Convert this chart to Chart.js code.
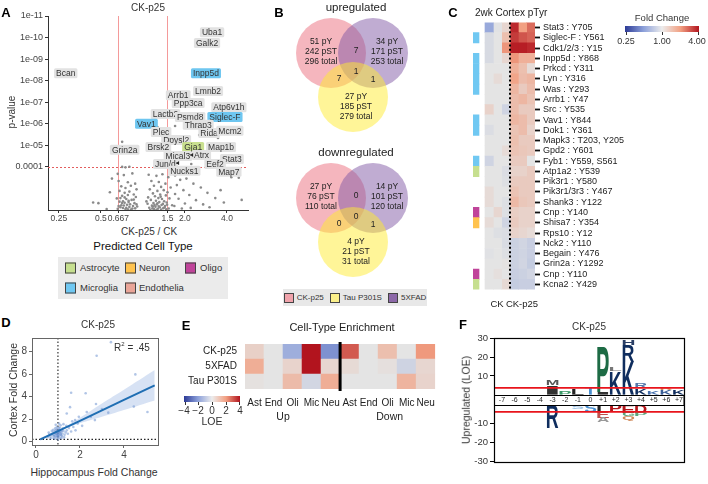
<!DOCTYPE html>
<html lang="en">
<head>
<meta charset="UTF-8">
<title>Phosphoproteomics figure</title>
<script src="https://cdn.jsdelivr.net/npm/chart.js"></script>
<style>
  body { margin:0; width:708px; height:484px; position:relative; overflow:hidden; background:#fff;
         font-family:'Liberation Sans', Arial, sans-serif; color:#333; }
  canvas, .t, .box, .sw, .bar, .tick { position:absolute; }
  .t { white-space:nowrap; transform:translate(-50%,-50%); line-height:1; }
  .tl { transform:translate(0,-50%); }
  .rot { transform:translate(-50%,-50%) rotate(-90deg); }
  .lab { font-weight:bold; font-size:13px; color:#000; }
  .sw { width:9px; height:9px; border:1px solid #444; transform:translate(0,-50%); }
  .tick { width:1px; background:#333; }
  .legB { display:flex; align-items:center; justify-content:center; gap:3px; font-size:8px; color:#333; }
  .legB i { display:inline-block; width:8px; height:8px; border:1px solid #444; margin-left:3px; }
</style>
</head>
<body>
<canvas id="cA" width="252" height="226" style="left:0;top:0"></canvas>
<canvas id="cB" width="140" height="268" style="left:286px;top:16px"></canvas>
<canvas id="cC" width="238" height="284" style="left:470px;top:14px"></canvas>
<canvas id="cD" width="165" height="132" style="left:0;top:330px"></canvas>
<canvas id="cE" width="268" height="96" style="left:175px;top:330px"></canvas>
<canvas id="cF" width="248" height="140" style="left:460px;top:330px"></canvas>

<!-- panel letters -->
<div class="t lab" style="left:6px;top:12px">A</div>
<div class="t lab" style="left:279px;top:12px">B</div>
<div class="t lab" style="left:453px;top:12px">C</div>
<div class="t lab" style="left:6px;top:322px">D</div>
<div class="t lab" style="left:186px;top:325px">E</div>
<div class="t lab" style="left:463px;top:324px">F</div>

<!-- A -->
<div class="t" style="left:148px;top:8px;font-size:10px">CK-p25</div>
<div class="t rot" style="left:12px;top:112px;font-size:10px">p-value</div>
<div class="t" style="left:149px;top:232px;font-size:10px">CK-p25 / CK</div>
<div class="t" style="left:143px;top:247px;font-size:11.5px;color:#111">Predicted Cell Type</div>
<div class="box" style="left:58px;top:257px;width:170px;height:42px;background:#ebebeb"></div>
<div class="sw" style="left:65px;top:268px;background:#c6df8f"></div>
<div class="t tl" style="left:80px;top:268px;font-size:9.5px">Astrocyte</div>
<div class="sw" style="left:125px;top:268px;background:#ffc34f"></div>
<div class="t tl" style="left:139px;top:268px;font-size:9.5px">Neuron</div>
<div class="sw" style="left:185px;top:268px;background:#c0449a"></div>
<div class="t tl" style="left:200px;top:268px;font-size:9.5px">Oligo</div>
<div class="sw" style="left:65px;top:288px;background:#70c8f2"></div>
<div class="t tl" style="left:80px;top:288px;font-size:9.5px">Microglia</div>
<div class="sw" style="left:125px;top:288px;background:#eaa598"></div>
<div class="t tl" style="left:139px;top:288px;font-size:9.5px">Endothelia</div>

<!-- B -->
<div class="t" style="left:356px;top:8px;font-size:11.5px;color:#222">upregulated</div>
<div class="t" style="left:356px;top:153px;font-size:11.5px;color:#222">downregulated</div>
<div class="box legB" style="left:283px;top:289px;width:144px;height:17px;background:#e8e8e8">
  <i style="background:#f0a3ab;margin-left:0"></i>CK-p25
  <i style="background:#fbf08a"></i>Tau P301S
  <i style="background:#8c68a8"></i>5XFAD
</div>

<!-- C -->
<div class="t tl" style="left:475px;top:13px;font-size:10px;color:#222">2wk Cortex pTyr</div>
<div class="t" style="left:662px;top:18px;font-size:9.5px">Fold Change</div>
<div class="bar" style="left:625px;top:26px;width:74px;height:6px;background:linear-gradient(to right, rgb(44,58,150) 0%, rgb(140,160,218) 25%, rgb(236,236,236) 50%, rgb(242,160,130) 75%, rgb(178,20,30) 100%)"></div>
<div class="tick" style="left:626px;top:32px;height:3px"></div>
<div class="tick" style="left:662px;top:32px;height:3px"></div>
<div class="tick" style="left:698px;top:32px;height:3px"></div>
<div class="t" style="left:626px;top:41px;font-size:9px">0.25</div>
<div class="t" style="left:662px;top:41px;font-size:9px">1.00</div>
<div class="t" style="left:697px;top:41px;font-size:9px">4.00</div>
<div class="t" style="left:497px;top:304px;font-size:9.5px;color:#222">CK</div>
<div class="t" style="left:522px;top:304px;font-size:9.5px;color:#222">CK-p25</div>

<!-- D -->
<div class="t" style="left:98px;top:325px;font-size:10px">CK-p25</div>
<div class="t" style="left:132px;top:347px;font-size:10px">R<sup style="font-size:6px">2</sup> = .45</div>
<div class="t rot" style="left:13px;top:390px;font-size:10.5px">Cortex Fold Change</div>
<div class="t" style="left:94px;top:472px;font-size:10.5px">Hippocampus Fold Change</div>

<!-- E -->
<div class="t" style="left:342px;top:327px;font-size:11px;color:#222">Cell-Type Enrichment</div>
<div class="bar" style="left:184px;top:396px;width:56px;height:6px;background:linear-gradient(to right, rgb(44,58,150) 0%, rgb(140,160,218) 25%, rgb(236,236,236) 50%, rgb(242,160,130) 75%, rgb(178,20,30) 100%)"></div>
<div class="tick" style="left:185px;top:402px;height:3px"></div>
<div class="tick" style="left:198px;top:402px;height:3px"></div>
<div class="tick" style="left:212px;top:402px;height:3px"></div>
<div class="tick" style="left:226px;top:402px;height:3px"></div>
<div class="tick" style="left:239px;top:402px;height:3px"></div>
<div class="t" style="left:184px;top:411px;font-size:10px">&minus;4</div>
<div class="t" style="left:198px;top:411px;font-size:10px">&minus;2</div>
<div class="t" style="left:212px;top:411px;font-size:10px">0</div>
<div class="t" style="left:226px;top:411px;font-size:10px">2</div>
<div class="t" style="left:240px;top:411px;font-size:10px">4</div>
<div class="t" style="left:212px;top:421px;font-size:10.5px">LOE</div>

<!-- F -->
<div class="t" style="left:589px;top:327px;font-size:10px">CK-p25</div>
<div class="t rot" style="left:466px;top:400px;font-size:10.5px">Upregulated (LOE)</div>

<script>
Chart.defaults.font.family = "'Liberation Sans', Arial, sans-serif";
Chart.defaults.color = '#333';
Chart.defaults.animation = false;
Chart.defaults.responsive = false;
Chart.defaults.devicePixelRatio = 1;
Chart.defaults.plugins.legend.display = false;
Chart.defaults.plugins.tooltip.enabled = false;

// ---------- data: A (volcano) ----------
// [fold change, p-value]
const volcanoPts = [
  // above threshold
  [1.70,1.26e-6],[2.01,1.4e-6],[2.53,3.3e-6],[3.45,4.6e-6],[1.27,1.4e-6],[0.71,6.9e-6],[1.55,1.6e-5],
  [1.73,6.5e-5],[2.22,7.3e-5],[2.18,2.8e-5],[1.37,1.9e-6],[4.86,3.2e-4],[5.1,3.4e-3],
  // low fold change
  [0.44,4.5e-3],[0.48,4.8e-3],[0.55,9.0e-3],[0.58,1.5e-3],[0.60,3.5e-4],[0.71,1.0e-4],[0.75,1.05e-4],[0.80,9.8e-5],
  // left cluster
  [0.66,2.1e-4],[0.73,2.4e-4],[0.84,2.0e-4],[0.67,4.5e-4],[0.78,5.2e-4],[0.88,6.0e-4],[0.70,8.0e-4],[0.75,9.5e-4],
  [0.82,7.5e-4],[0.90,1.1e-3],[0.68,1.3e-3],[0.74,1.6e-3],[0.80,1.4e-3],[0.86,1.9e-3],[0.71,2.2e-3],[0.78,2.0e-3],
  [0.89,2.5e-3],[0.69,2.8e-3],[0.76,3.1e-3],[0.83,3.4e-3],[0.72,3.9e-3],[0.79,4.3e-3],[0.87,4.8e-3],[0.68,4.1e-3],
  [0.74,4.6e-3],[0.81,5.4e-3],[0.70,6.0e-3],[0.77,5.7e-3],[0.85,6.5e-3],[0.73,6.2e-3],[0.91,6.9e-3],[0.69,7.4e-3],
  [0.76,8.0e-3],[0.80,7.2e-3],[0.84,8.6e-3],[0.72,8.1e-3],[0.66,8.8e-3],[0.78,9.3e-3],[0.82,9.6e-3],[0.75,9.0e-3],
  [0.88,8.4e-3],[0.71,4.7e-3],[0.79,3.7e-3],[0.74,2.6e-3],[0.65,2.9e-3],[0.90,5.5e-3],[0.86,3.3e-3],[0.67,6.6e-3],
  // right cluster
  [1.10,2.3e-4],[1.25,2.6e-4],[1.38,2.2e-4],[1.52,3.0e-4],[1.15,4.5e-4],[1.30,5.0e-4],[1.45,6.0e-4],[1.20,7.5e-4],
  [1.35,8.5e-4],[1.58,9.0e-4],[1.12,1.1e-3],[1.27,1.3e-3],[1.41,1.2e-3],[1.50,1.5e-3],[1.18,1.7e-3],[1.33,1.9e-3],
  [1.22,2.3e-3],[1.46,2.1e-3],[1.09,2.6e-3],[1.29,2.8e-3],[1.37,3.1e-3],[1.55,2.9e-3],[1.14,3.4e-3],[1.24,3.7e-3],
  [1.42,3.9e-3],[1.31,4.3e-3],[1.19,4.7e-3],[1.48,4.5e-3],[1.08,5.1e-3],[1.26,5.5e-3],[1.36,5.9e-3],[1.16,6.3e-3],
  [1.44,6.6e-3],[1.23,7.0e-3],[1.32,7.5e-3],[1.11,7.9e-3],[1.40,8.2e-3],[1.28,8.7e-3],[1.20,9.1e-3],[1.53,8.5e-3],
  [1.35,9.5e-3],[1.13,9.7e-3],[1.47,9.3e-3],[1.62,6.0e-3],[1.06,4.0e-3],[1.21,5.8e-3],[1.39,5.2e-3],[1.17,8.4e-3],
  [1.30,6.8e-3],[1.25,9.8e-3],[1.43,7.7e-3],[1.34,2.4e-3],[1.27,4.9e-3],[1.49,5.7e-3],[1.18,6.9e-3],
  // sparse right
  [1.70,2.5e-4],[1.85,4.0e-4],[2.05,3.5e-4],[1.75,7.0e-4],[2.30,6.0e-4],[1.95,1.2e-3],[2.60,9.0e-4],[1.70,1.8e-3],
  [2.15,2.0e-3],[2.90,1.6e-3],[1.80,3.0e-3],[2.40,3.5e-3],[3.30,2.8e-3],[2.00,5.0e-3],[1.68,6.5e-3],[2.70,5.5e-3],
  [3.80,4.5e-3],[2.20,8.0e-3],[4.30,3.0e-4],[3.00,7.5e-3],[1.90,8.5e-3],[3.60,1.2e-3]
];
const volcanoLabels = [
  ['Uba1', 3.13, 5.6e-11, ''], ['Galk2', 2.88, 1.8e-10, ''], ['Bcan', 0.28, 4.5e-9, ''],
  ['Inpp5d', 2.83, 4.5e-9, 'mic'], ['Lmnb2', 2.93, 3.0e-8, ''], ['Arrb1', 1.79, 4.7e-8, ''],
  ['Ppp3ca', 2.11, 1.1e-7, ''], ['Atp6v1h', 4.13, 1.7e-7, ''], ['Lactb2', 1.45, 3.5e-7, ''],
  ['Psmd8', 2.18, 4.9e-7, ''], ['Siglec-F', 3.87, 4.9e-7, 'mic'], ['Vav1', 1.06, 1.0e-6, 'mic'],
  ['Thrap3', 2.49, 1.1e-6, ''], ['Plec', 1.35, 2.4e-6, ''], ['Rida', 2.98, 2.7e-6, ''],
  ['Mcm2', 4.2, 2.1e-6, ''], ['Dpysl2', 1.73, 5.6e-6, ''], ['Grin2a', 0.74, 1.6e-5, ''],
  ['Brsk2', 1.29, 1.2e-5, ''], ['Gja1', 2.29, 1.2e-5, 'ast'], ['Map1b', 3.63, 1.2e-5, ''],
  ['Mical3', 1.78, 3.1e-5, ''], ['Atrx', 2.63, 2.8e-5, ''], ['Stat3', 4.34, 4.3e-5, ''],
  ['Jun/d', 1.45, 7.3e-5, ''], ['Eef2', 3.29, 7.3e-5, ''], ['Nucks1', 1.98, 1.5e-4, ''],
  ['Map7', 4.13, 1.7e-4, '']
];
const volcanoArrows = [['Jun/d', 1.73, 6.6e-5], ['Atrx', 2.18, 2.8e-5]];
const fcCutoffs = [0.667, 1.5];
const pCutoff = 1e-4;
const xTicksA = [0.25, 0.5, 0.667, 1.5, 2, 4];
const xTickLabelsA = ['0.25', '0.5', '0.667', '1.5', '2.0', '4.0'];
const yTicksA = [1e-11, 1e-10, 1e-9, 1e-8, 1e-7, 1e-6, 1e-5, 1e-4];
const yTickLabelsA = ['1e-11', '1e-10', '1e-09', '1e-08', '1e-07', '1e-06', '1e-05', '0.0001'];

// ---------- data: B (Venn) ----------
// order: CK-p25, 5XFAD, Tau P301S
const upPY = [51, 34, 27];
const upPST = [242, 171, 185];
const upTotal = [296, 253, 279];
const upOverlap = [7, 7, 1, 1];      // CK&5X, CK&Tau, all three, Tau&5X
const downPY = [27, 14, 4];
const downPST = [76, 101, 21];
const downTotal = [110, 120, 31];
const downOverlap = [0, 0, 0, 1];

// ---------- data: C (heatmap) ----------
const siteLabels = ['Stat3 : Y705', 'Siglec-F : Y561', 'Cdk1/2/3 : Y15', 'Inpp5d : Y868', 'Prkcd : Y311',
  'Lyn : Y316', 'Was : Y293', 'Arrb1 : Y47', 'Src : Y535', 'Vav1 : Y844', 'Dok1 : Y361', 'Mapk3 : T203, Y205',
  'Gpd2 : Y601', 'Fyb1 : Y559, S561', 'Atp1a2 : Y539', 'Pik3r1 : Y580', 'Pik3r1/3r3 : Y467', 'Shank3 : Y122',
  'Cnp : Y140', 'Shisa7 : Y354', 'Rps10 : Y12', 'Nck2 : Y110', 'Begain : Y476', 'Grin2a : Y1292',
  'Cnp : Y110', 'Kcna2 : Y429'];
const siteType = ['', 'mic', '', 'mic', 'mic', 'mic', 'mic', '', '', 'mic', 'mic', '', '', 'mic', 'ast',
  '', '', '', 'oli', 'neu', '', '', '', '', 'oli', 'ast'];
const ckFC = [[0.55,0.98,1.15],[0.9,1.0,1.45],[0.9,1.0,2.1],[0.9,1.0,1.15],[1.0,1.0,1.0],[1.0,1.1,1.0],
  [1.0,1.0,1.0],[1.0,1.0,1.0],[1.2,1.0,0.85],[1.0,1.0,1.0],[0.93,1.0,1.0],[1.0,1.0,1.0],[1.0,1.0,1.1],
  [0.85,1.0,1.0],[1.0,1.0,0.93],[1.0,1.0,0.95],[1.1,1.0,1.0],[1.1,1.0,0.95],[1.0,1.15,0.95],[1.1,1.0,0.85],
  [1.0,0.95,0.93],[1.0,1.0,0.92],[0.97,1.0,0.95],[1.0,1.0,1.02],[1.0,1.05,1.0],[1.0,1.0,1.12]];
const p25FC = [[3.6,2.0,2.6],[3.3,2.9,2.7],[3.8,3.8,3.6],[2.1,1.7,1.7],[1.7,1.45,1.1],[1.9,1.5,1.6],
  [1.6,1.3,1.5],[1.5,1.6,1.4],[1.5,1.3,1.3],[1.6,1.5,1.3],[1.4,1.5,1.2],[1.45,1.3,1.3],[1.4,1.35,1.3],
  [1.3,1.3,1.0],[1.2,1.2,1.3],[1.3,1.3,1.3],[1.4,1.3,1.3],[1.55,1.35,1.3],[1.25,1.2,1.2],[1.3,1.2,1.2],
  [1.2,1.15,1.1],[0.82,0.86,0.8],[0.82,0.85,0.8],[0.82,0.86,0.78],[0.8,0.82,0.86],[0.78,0.8,0.8]];

// ---------- data: D (cortex vs hippocampus) ----------
const hcPts = [
  [0.75,0.55],[0.82,0.62],[0.88,0.48],[0.92,0.71],[0.95,0.58],[0.98,0.83],[1.02,0.66],[1.05,0.52],[1.08,0.77],
  [1.12,0.61],[0.85,0.9],[0.9,1.02],[0.97,1.1],[1.03,0.95],[1.1,1.05],[1.15,0.88],[1.2,0.72],[1.25,0.95],
  [0.78,0.8],[0.7,0.68],[0.65,0.45],[0.8,0.35],[0.93,0.38],[1.0,0.42],[1.07,0.33],[1.18,0.46],[1.3,0.6],
  [1.35,0.82],[1.4,1.0],[1.22,1.18],[1.08,1.25],[0.95,1.3],[0.88,1.18],[0.72,0.95],[0.6,0.62],[0.68,0.3],
  [0.85,0.25],[1.0,0.2],[1.15,0.3],[1.28,0.38],[1.45,0.7],[1.5,1.2],[1.6,0.9],[1.38,1.4],[1.12,1.45],
  [0.9,1.5],[1.05,1.6],[1.25,1.55],[0.55,0.4],[0.58,0.8],[1.0,0.75],[0.96,0.92],[1.04,0.85],[1.01,0.6],
  [0.99,0.5],[1.06,1.0],[0.94,0.65],[1.13,0.7],[0.87,0.72],[1.18,0.98],[1.7,1.3],[1.8,1.0],[1.9,1.6],
  [2.1,1.4],[1.65,1.8],[1.95,2.2],[0.83,0.5],[0.91,0.85],[1.09,0.9],[1.16,0.55],[0.79,1.05],[1.03,1.2],
  [2.76,7.63],[3.41,8.83],[4.52,5.97],[5.07,2.63],[4.45,3.11],[2.26,4.29],[2.73,3.34],[2.68,1.91],
  [3.29,2.57],[2.31,2.63],[1.6,4.34],[1.55,3.06],[1.78,1.91],[3.0,2.9],[2.5,2.2],[1.4,2.5]
];
const fitX = [0.2, 1, 2, 3, 4, 5.4];
const fitY = [0.2, 0.93, 1.85, 2.78, 3.7, 5.0];
const bandHi = [0.32, 0.98, 2.12, 3.38, 4.6, 6.35];
const bandLo = [0.08, 0.88, 1.62, 2.2, 2.8, 3.65];
const hipRef = 1;
const ctxRef = 0.2;

// ---------- data: E (cell-type enrichment, LOE) ----------
const eCols = ['Ast', 'End', 'Oli', 'Mic', 'Neu', 'Ast', 'End', 'Oli', 'Mic', 'Neu'];
const eRows = ['CK-p25', '5XFAD', 'Tau P301S'];
const eGroups = ['Up', 'Down'];
const eCK = [0.6, 0, -1.6, 4.5, -2.3, 3.0, 0, 1.1, 0, 2.1];
const eFAD = [1.6, 0, 0.5, 4.5, 0.4, 0.3, 0, 0.15, -0.5, 0.4];
const eTau = [0.1, 0, 1.2, -0.4, 1.6, 0, 0, 0, 1.4, 0.5];

// ---------- data: F (sequence logo) ----------
const logoPos = [-7, -6, -5, -4, -3, -2, -1, 0, 1, 2, 3, 4, 5, 6, 7];
const logoTicks = [-30, -20, -10, 10, 20, 30];
const sigLOE = 3.6;
// [position, [[letter, colour, height], ...]] listed from the centre band outwards
const upLogo = [
  [-3, [['I', '#333', 5], ['M', '#555', 2.7]]],
  [-2, [['P', '#3c9a68', 2.2]]],
  [-1, [['L', '#222', 3.2]]],
  [0, [['T', '#4a90d0', 4]]],
  [1, [['I', '#333', 1], ['P', '#1d6b45', 24]]],
  [2, [['K', '#0f2d5e', 12.4], ['L', '#777', 1.8]]],
  [3, [['K', '#0f2d5e', 17.7], ['R', '#0f2d5e', 9], ['H', '#2a3f66', 3]]],
  [4, [['K', '#0f2d5e', 3.5], ['R', '#5577aa', 2.7]]],
  [5, [['K', '#4a74b0', 1.8]]],
  [6, [['K', '#3b5f98', 2.7], ['R', '#d09060', 1]]],
  [7, [['K', '#0f2d5e', 3]]]
];
const downLogo = [
  [-3, [['R', '#0f2d5e', 12]]],
  [-1, [['S', '#9cc3e6', 2.2]]],
  [0, [['S', '#4a90d0', 3.9]]],
  [1, [['L', '#222', 3.5], ['E', '#c0504d', 3.2], ['A', '#999', 2.5]]],
  [2, [['P', '#b3161b', 4]]],
  [3, [['E', '#b3161b', 4], ['G', '#5aa57a', 2], ['Q', '#d08a5a', 2.2]]],
  [4, [['D', '#b3161b', 4], ['P', '#5aa57a', 1.8]]]
];

// ---------- helpers ----------
const FONT = "'Liberation Sans', Arial, sans-serif";
const divStops = [[-1, [44, 58, 150]], [-0.5, [140, 160, 218]], [0, [228, 228, 228]], [0.5, [242, 160, 130]], [1, [178, 20, 30]]];
function divColor(t) {
  t = Math.max(-1, Math.min(1, t));
  for (let i = 1; i < divStops.length; i++) {
    if (t <= divStops[i][0]) {
      const [t0, c0] = divStops[i - 1], [t1, c1] = divStops[i];
      const f = (t - t0) / (t1 - t0);
      return 'rgb(' + c0.map((c, k) => Math.round(c + (c1[k] - c) * f)).join(',') + ')';
    }
  }
}
const fcColor = v => divColor(Math.log2(v) / 2);
const loeColor = v => divColor(v / 4);
const typeColors = { ast: '#c6df8f', neu: '#ffc34f', oli: '#c0449a', mic: '#70c8f2', end: '#eaa598' };
const labelFill = { '': '#e2e2e2', mic: '#6ec6f0', ast: '#c9e08f' };
const axisGrid = (len, col) => ({ display: true, drawOnChartArea: false, tickLength: len, color: col });
const noGrid = { display: false, drawTicks: false };

// ---------- A ----------
const volcanoPlugin = {
  id: 'volcano',
  beforeDatasetsDraw(chart) {
    const { ctx, chartArea: a, scales: { x, y } } = chart;
    ctx.save();
    ctx.lineWidth = 1;
    ctx.strokeStyle = 'rgba(240,120,120,0.75)';
    fcCutoffs.forEach(v => {
      const px = Math.round(x.getPixelForValue(v)) + 0.5;
      ctx.beginPath(); ctx.moveTo(px, a.top); ctx.lineTo(px, a.bottom); ctx.stroke();
    });
    ctx.setLineDash([2, 2]);
    ctx.strokeStyle = '#e35d5d';
    const py = Math.round(y.getPixelForValue(pCutoff)) + 0.5;
    ctx.beginPath(); ctx.moveTo(a.left, py); ctx.lineTo(a.right, py); ctx.stroke();
    ctx.restore();
  },
  afterDatasetsDraw(chart) {
    const { ctx, scales: { x, y } } = chart;
    ctx.save();
    ctx.font = '8.5px ' + FONT;
    ctx.textAlign = 'center';
    ctx.textBaseline = 'middle';
    const boxes = {};
    volcanoLabels.forEach(([txt, fc, p, kind]) => {
      const cx = x.getPixelForValue(fc), cy = y.getPixelForValue(p);
      const w = ctx.measureText(txt).width + 4, h = 10;
      ctx.fillStyle = labelFill[kind];
      ctx.beginPath(); ctx.roundRect(cx - w / 2, cy - h / 2, w, h, 1.5); ctx.fill();
      ctx.fillStyle = '#333';
      ctx.fillText(txt, cx, cy + 0.5);
      boxes[txt] = { cx, cy, w };
    });
    ctx.strokeStyle = '#222'; ctx.fillStyle = '#222'; ctx.lineWidth = 1;
    volcanoArrows.forEach(([txt, fc, p]) => {
      const b = boxes[txt];
      const tx = x.getPixelForValue(fc), ty = y.getPixelForValue(p);
      const sx = tx > b.cx ? b.cx + b.w / 2 + 1 : b.cx - b.w / 2 - 1;
      const dir = Math.sign(tx - sx);
      ctx.beginPath(); ctx.moveTo(sx, b.cy); ctx.lineTo(tx, ty); ctx.stroke();
      ctx.beginPath(); ctx.moveTo(tx, ty); ctx.lineTo(tx - dir * 3, ty - 2); ctx.lineTo(tx - dir * 3, ty + 2); ctx.closePath(); ctx.fill();
    });
    ctx.restore();
  }
};

new Chart(document.getElementById('cA'), {
  type: 'scatter',
  data: { datasets: [{ data: volcanoPts.map(([x, y]) => ({ x, y })), pointRadius: 1.3, backgroundColor: '#8a8a8a', borderWidth: 0 }] },
  options: {
    layout: { padding: { top: 16, right: 3, left: 0, bottom: 0 } },
    scales: {
      x: {
        type: 'logarithmic', min: 0.209, max: 5.66,
        afterBuildTicks: s => { s.ticks = xTicksA.map(v => ({ value: v })); },
        afterFit: s => { s.height = 16; },
        grid: axisGrid(3, '#333'), border: { color: '#333' },
        ticks: { font: { size: 8.5 }, color: '#444', padding: 1, autoSkip: false, maxRotation: 0, callback: (v, i) => xTickLabelsA[i] }
      },
      y: {
        type: 'logarithmic', reverse: true, min: 1e-11, max: 1e-2,
        afterBuildTicks: s => { s.ticks = yTicksA.map(v => ({ value: v })); },
        afterFit: s => { s.width = 48; },
        grid: axisGrid(3, '#333'), border: { color: '#333' },
        ticks: { font: { size: 9 }, color: '#444', padding: 2, autoSkip: false, callback: (v, i) => yTickLabelsA[i] }
      }
    }
  },
  plugins: [volcanoPlugin]
});

// ---------- B ----------
const vennCentres = [[0, 0], [42, 0], [22, 44]];     // CK-p25, 5XFAD, Tau P301S
const vennShift = [0, 145];                           // up, down
const vennColors = ['rgba(235,110,125,0.5)', 'rgba(130,90,165,0.5)', 'rgba(255,236,50,0.5)'];
const groupPos = [[-10, -1], [56, -1], [25, 54]];
const overlapPos = [[25, -2], [8, 26], [25, 19], [42, 27]];
const vennPlugin = {
  id: 'vennText',
  afterDatasetsDraw(chart) {
    const { ctx, scales: { x, y } } = chart;
    ctx.save();
    ctx.font = '8.5px ' + FONT;
    ctx.fillStyle = '#222';
    ctx.textAlign = 'center';
    ctx.textBaseline = 'middle';
    [[upPY, upPST, upTotal, upOverlap], [downPY, downPST, downTotal, downOverlap]].forEach(([py, pst, tot, ov], k) => {
      const dy = vennShift[k];
      groupPos.forEach(([gx, gy], i) => {
        const px = x.getPixelForValue(gx), c = y.getPixelForValue(gy + dy);
        ctx.fillText(py[i] + ' pY', px, c - 10);
        ctx.fillText(pst[i] + ' pST', px, c);
        ctx.fillText(tot[i] + ' total', px, c + 10);
      });
      overlapPos.forEach(([ox, oy], i) => ctx.fillText(String(ov[i]), x.getPixelForValue(ox), y.getPixelForValue(oy + dy)));
    });
    ctx.restore();
  }
};
new Chart(document.getElementById('cB'), {
  type: 'bubble',
  data: {
    datasets: vennCentres.map((c, i) => ({
      data: vennShift.map(dy => ({ x: c[0], y: c[1] + dy, r: 35 })),
      backgroundColor: vennColors[i], borderWidth: 0, order: 2 - i, clip: false
    }))
  },
  options: {
    layout: { padding: 0, autoPadding: false },
    scales: {
      x: { display: false, min: -45, max: 95 },
      y: { display: false, min: -37, max: 231, reverse: true }
    }
  },
  plugins: [vennPlugin]
});

// ---------- C ----------
const sideW = 0.72, gapW = 0.72;
const dottedPlugin = {
  id: 'dotted',
  afterDatasetsDraw(chart) {
    const { ctx, chartArea: a, scales: { x } } = chart;
    const px = x.getPixelForValue(sideW + gapW + 3);
    ctx.save();
    ctx.strokeStyle = '#000'; ctx.lineWidth = 2; ctx.setLineDash([2, 2.4]);
    ctx.beginPath(); ctx.moveTo(px, a.top); ctx.lineTo(px, a.bottom); ctx.stroke();
    ctx.restore();
  }
};
const cDatasets = [
  { data: siteLabels.map(() => sideW), backgroundColor: siteType.map(t => t ? typeColors[t] : 'rgba(0,0,0,0)') },
  { data: siteLabels.map(() => gapW), backgroundColor: 'rgba(0,0,0,0)' }
];
[ckFC, p25FC].forEach(m => {
  for (let c = 0; c < 3; c++) cDatasets.push({ data: m.map(() => 1), backgroundColor: m.map(r => fcColor(r[c])) });
});
new Chart(document.getElementById('cC'), {
  type: 'bar',
  data: { labels: siteLabels, datasets: cDatasets.map(d => Object.assign(d, { borderWidth: 0, barPercentage: 1, categoryPercentage: 1 })) },
  options: {
    indexAxis: 'y',
    layout: { padding: { left: 3, top: 3.6, bottom: 0.6, right: 0 } },
    scales: {
      x: { stacked: true, display: false, min: 0, max: sideW + gapW + 6 },
      y: {
        stacked: true, position: 'right',
        afterFit: s => { s.width = 173; },
        grid: { display: true, drawOnChartArea: false, offset: false, tickLength: 5, tickWidth: 1.8, color: '#111' },
        border: { display: false },
        ticks: { font: { size: 9 }, color: '#222', padding: 3, autoSkip: false }
      }
    }
  },
  plugins: [dottedPlugin]
});

// ---------- D ----------
const dPlugin = {
  id: 'dRefs',
  beforeDatasetsDraw(chart) {
    const { ctx, chartArea: a, scales: { x, y } } = chart;
    ctx.save();
    ctx.strokeStyle = '#222'; ctx.lineWidth = 1.1; ctx.setLineDash([1.5, 2]);
    const px = x.getPixelForValue(hipRef), py = y.getPixelForValue(ctxRef);
    ctx.beginPath(); ctx.moveTo(px, a.top); ctx.lineTo(px, a.bottom); ctx.stroke();
    ctx.beginPath(); ctx.moveTo(a.left, py); ctx.lineTo(a.right, py); ctx.stroke();
    ctx.restore();
  },
  afterDraw(chart) {
    const { ctx, chartArea: a } = chart;
    ctx.save();
    ctx.strokeStyle = '#666'; ctx.lineWidth = 1;
    ctx.strokeRect(Math.round(a.left) + 0.5, Math.round(a.top) + 0.5, Math.round(a.right - a.left), Math.round(a.bottom - a.top));
    ctx.restore();
  }
};
new Chart(document.getElementById('cD'), {
  type: 'scatter',
  data: {
    datasets: [
      { type: 'line', data: fitX.map((v, i) => ({ x: v, y: bandHi[i] })), borderWidth: 0, pointRadius: 0, fill: '+1', backgroundColor: 'rgba(150,178,225,0.38)', tension: 0.4, order: 3 },
      { type: 'line', data: fitX.map((v, i) => ({ x: v, y: bandLo[i] })), borderWidth: 0, pointRadius: 0, fill: false, tension: 0.4, order: 3 },
      { data: hcPts.map(([x, y]) => ({ x, y })), pointRadius: 1.3, backgroundColor: 'rgba(100,140,205,0.5)', borderWidth: 0, order: 2 },
      { type: 'line', data: fitX.map((v, i) => ({ x: v, y: fitY[i] })), borderColor: '#1f6eb3', borderWidth: 2, pointRadius: 0, fill: false, order: 1 }
    ]
  },
  options: {
    layout: { padding: { top: 5, right: 7, left: 0, bottom: 0 } },
    scales: {
      x: {
        min: -0.18, max: 5.55,
        afterBuildTicks: s => { s.ticks = [0, 2, 4].map(v => ({ value: v })); },
        afterFit: s => { s.height = 17; },
        grid: axisGrid(3, '#666'), border: { display: false },
        ticks: { font: { size: 10 }, color: '#444', padding: 1 }
      },
      y: {
        min: -0.3, max: 9.2,
        afterBuildTicks: s => { s.ticks = [0, 2, 4, 6, 8].map(v => ({ value: v })); },
        afterFit: s => { s.width = 32; },
        grid: axisGrid(3, '#666'), border: { display: false },
        ticks: { font: { size: 10 }, color: '#444', padding: 2 }
      }
    }
  },
  plugins: [dPlugin]
});

// ---------- E ----------
const eLinePlugin = {
  id: 'eLine',
  afterDatasetsDraw(chart) {
    const { ctx, chartArea: a, scales: { x } } = chart;
    const px = (x.getPixelForValue(4) + x.getPixelForValue(5)) / 2;
    ctx.save();
    ctx.strokeStyle = '#000'; ctx.lineWidth = 3;
    ctx.beginPath(); ctx.moveTo(px, a.top - 2); ctx.lineTo(px, a.bottom + 2); ctx.stroke();
    // group captions under the column labels
    ctx.fillStyle = '#222';
    ctx.font = '10.5px ' + FONT;
    ctx.textAlign = 'center'; ctx.textBaseline = 'middle';
    ctx.fillText(eGroups[0], (x.getPixelForValue(1) + x.getPixelForValue(2)) / 2, a.bottom + 28);
    ctx.fillText(eGroups[1], x.getPixelForValue(7) + 2, a.bottom + 28);
    ctx.restore();
  }
};
new Chart(document.getElementById('cE'), {
  type: 'bar',
  data: {
    labels: eCols,
    datasets: [eTau, eFAD, eCK].map(r => ({
      data: r.map(() => 1), backgroundColor: r.map(loeColor), borderWidth: 0, barPercentage: 1, categoryPercentage: 1
    }))
  },
  options: {
    layout: { padding: { top: 6, right: 3, left: 0, bottom: 0 } },
    scales: {
      x: {
        stacked: true, afterFit: s => { s.height = 37; },
        grid: noGrid, border: { display: false },
        ticks: { font: { size: 10 }, color: '#222', padding: 8, autoSkip: false, maxRotation: 0 }
      },
      y: {
        stacked: true, min: 0, max: 3,
        afterBuildTicks: s => { s.ticks = [0.5, 1.5, 2.5].map(v => ({ value: v })); },
        afterFit: s => { s.width = 70; },
        grid: noGrid, border: { display: false },
        ticks: { font: { size: 10 }, color: '#222', padding: 8, callback: (v, i) => eRows[2 - i] }
      }
    }
  },
  plugins: [eLinePlugin]
});

// ---------- F ----------
const logoGap = 2.8;
const xMinF = -7.63, xMaxF = 7.4;
function drawLetter(ctx, ch, color, xc, w, top, h) {
  ctx.save();
  ctx.font = 'bold 100px ' + FONT;
  ctx.textAlign = 'left';
  ctx.textBaseline = 'alphabetic';
  const m = ctx.measureText(ch);
  const gw = m.actualBoundingBoxLeft + m.actualBoundingBoxRight;
  const gh = m.actualBoundingBoxAscent + m.actualBoundingBoxDescent;
  ctx.translate(xc - w / 2, top);
  ctx.scale(w / gw, h / gh);
  ctx.fillStyle = color;
  ctx.fillText(ch, m.actualBoundingBoxLeft, m.actualBoundingBoxAscent);
  ctx.restore();
}
const logoPlugin = {
  id: 'logo',
  beforeDatasetsDraw(chart) {
    const { ctx, chartArea: a, scales: { x, y } } = chart;
    ctx.save();
    ctx.beginPath(); ctx.rect(a.left, a.top, a.right - a.left, a.bottom - a.top); ctx.clip();
    const colW = (x.getPixelForValue(1) - x.getPixelForValue(0)) * 0.92;
    [[upLogo, 1], [downLogo, -1]].forEach(([stacks, dir]) => {
      stacks.forEach(([pos, letters]) => {
        let base = dir * logoGap;
        letters.forEach(([ch, col, h]) => {
          const y0 = y.getPixelForValue(base), y1 = y.getPixelForValue(base + dir * h);
          drawLetter(ctx, ch, col, x.getPixelForValue(pos), colW, Math.min(y0, y1), Math.abs(y1 - y0));
          base += dir * h;
        });
      });
    });
    const bt = y.getPixelForValue(logoGap), bb = y.getPixelForValue(-logoGap);
    ctx.fillStyle = '#fff';
    ctx.fillRect(a.left, bt, a.right - a.left, bb - bt);
    ctx.strokeStyle = '#000'; ctx.lineWidth = 1;
    ctx.strokeRect(a.left, Math.round(bt) + 0.5, a.right - a.left, Math.round(bb - bt));
    ctx.fillStyle = '#222';
    ctx.font = '7px ' + FONT;
    ctx.textAlign = 'center'; ctx.textBaseline = 'middle';
    logoPos.forEach(p => ctx.fillText(p > 0 ? '+' + p : String(p), x.getPixelForValue(p), (bt + bb) / 2 + 0.5));
    ctx.restore();
  },
  afterDraw(chart) {
    const { ctx, chartArea: a } = chart;
    ctx.save();
    ctx.strokeStyle = '#000'; ctx.lineWidth = 1.2;
    ctx.strokeRect(Math.round(a.left) + 0.5, Math.round(a.top) + 0.5, Math.round(a.right - a.left), Math.round(a.bottom - a.top));
    ctx.restore();
  }
};
new Chart(document.getElementById('cF'), {
  type: 'scatter',
  data: {
    datasets: [1, -1].map(d => ({
      data: [xMinF, xMaxF].map(x => ({ x, y: d * (logoGap + sigLOE) })),
      showLine: true, borderColor: '#e8141c', borderWidth: 1.6, pointRadius: 0
    }))
  },
  options: {
    layout: { padding: { top: 8, right: 24, left: 0, bottom: 7 } },
    scales: {
      x: { display: false, min: xMinF, max: xMaxF },
      y: {
        min: -33.4, max: 33.1,
        afterBuildTicks: s => { s.ticks = logoTicks.map(v => ({ value: v > 0 ? v + logoGap : v - logoGap })); },
        afterFit: s => { s.width = 34; },
        grid: axisGrid(4, '#000'), border: { color: '#000' },
        ticks: { font: { size: 9.5 }, color: '#333', padding: 2, callback: v => String(Math.round(v > 0 ? v - logoGap : v + logoGap)) }
      }
    }
  },
  plugins: [logoPlugin]
});
</script>
</body>
</html>
